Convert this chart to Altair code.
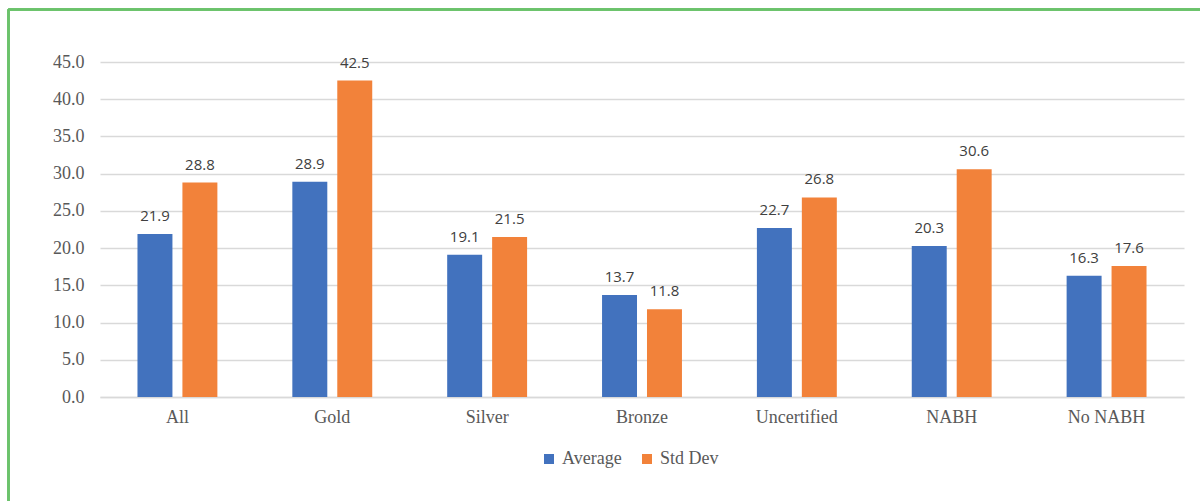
import altair as alt
import pandas as pd

categories = ["All", "Gold", "Silver", "Bronze", "Uncertified", "NABH", "No NABH"]
series = ["Average", "Std Dev"]
average = [21.9, 28.9, 19.1, 13.7, 22.7, 20.3, 16.3]
std_dev = [28.8, 42.5, 21.5, 11.8, 26.8, 30.6, 17.6]
y_ticks = [0, 5, 10, 15, 20, 25, 30, 35, 40, 45]
colors = ["#4272BE", "#F2823A"]

rows = []
for c, a, s in zip(categories, average, std_dev):
    rows.append({"cat": c, "series": "Average", "value": a})
    rows.append({"cat": c, "series": "Std Dev", "value": s})
df = pd.DataFrame(rows)

x = alt.X("cat:N", sort=categories, title=None,
          scale=alt.Scale(paddingInner=0.484, paddingOuter=0.242),
          axis=alt.Axis(labelFont="Liberation Serif", labelFontSize=18, labelColor="#595959",
                        labelAngle=0, labelPadding=11, ticks=False, grid=False,
                        domainColor="#d9d9d9", domainWidth=1.5))
xo = alt.XOffset("series:N", sort=series, scale=alt.Scale(paddingInner=0.222, paddingOuter=0))
y = alt.Y("value:Q", title=None,
          scale=alt.Scale(domain=[0, 45], nice=False),
          axis=alt.Axis(values=y_ticks, format=".1f", labelFont="Liberation Serif", labelFontSize=18,
                        labelColor="#595959", labelPadding=16, ticks=False, domain=False,
                        labelOverlap=False, grid=True, gridColor="#d9d9d9", gridWidth=1.5))

base = alt.Chart(df).encode(x=x, xOffset=xo, y=y)

bars = base.mark_bar().encode(
    color=alt.Color("series:N", sort=series, title=None,
                    scale=alt.Scale(domain=series, range=colors),
                    legend=alt.Legend(orient="none", legendX=440, legendY=388, direction="horizontal",
                                      symbolType="square", symbolSize=100, symbolStrokeWidth=0,
                                      labelFont="Liberation Serif", labelFontSize=18,
                                      labelColor="#595959", labelOffset=4, columnPadding=16)),
)

labels = base.mark_text(dy=-18, font="Open Sans", fontSize=15, color="#404040").encode(
    text=alt.Text("value:Q", format=".1f"),
)

border_left = alt.Chart(df).mark_rule(color="#6cc16c", strokeWidth=1.5).encode(
    x=alt.value(-91.5), y=alt.value(-52.5), y2=alt.value(460)
)
border_top = alt.Chart(df).mark_rule(color="#6cc16c", strokeWidth=1.5).encode(
    x=alt.value(-91.5), x2=alt.value(1120), y=alt.value(-52.5)
)

chart = alt.layer(bars, labels, border_left, border_top).properties(
    width=1084, height=335,
    background="white",
    autosize=alt.AutoSizeParams(type="none"),
    padding={"left": 100, "top": 62, "right": 16, "bottom": 104},
).configure_view(stroke=None).configure_axisX(grid=False)

chart.save("out.html", embed_options={"renderer": "svg", "actions": False})
